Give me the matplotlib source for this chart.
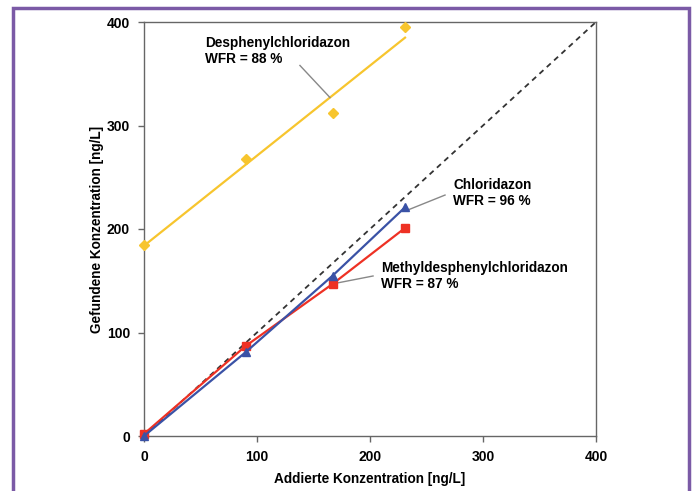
import matplotlib
matplotlib.use("Agg")
import matplotlib.pyplot as plt
import numpy as np
from matplotlib.patches import Rectangle

plt.rcParams['font.family'] = ['Liberation Sans', 'DejaVu Sans']

# Data
x_added = [0, 90, 167, 231]
y_desphenyl = [185, 268, 312, 395]
y_chloridazon = [0, 81, 155, 221]
y_methyl = [2, 87, 147, 201]
ticks = [0, 100, 200, 300, 400]

fig = plt.figure(figsize=(6.96, 4.91), dpi=100)
fig.patch.set_facecolor('white')

# purple frame
fig.add_artist(Rectangle((12.5/696, -0.05), (689-12.5)/696, (491-8.5)/491 + 0.05,
                         transform=fig.transFigure, fill=False,
                         edgecolor='#7B5AA6', linewidth=2.5, clip_on=False))

ax = fig.add_axes([144/696, 55/491, 452/696, 414/491])

# 1:1 line
ax.plot([0, 400], [0, 400], color='#333333', linestyle=(0, (3, 2.5)), linewidth=1.3, zorder=2)

# Desphenylchloridazon: regression line
xa = np.array(x_added, dtype=float)
coef = np.polyfit(xa, np.array(y_desphenyl, dtype=float), 1)
ax.plot([xa[0], xa[-1]], np.polyval(coef, [xa[0], xa[-1]]), color='#F7C52E', linewidth=1.6, zorder=3)
ax.plot(x_added, y_desphenyl, linestyle='none', marker='D', markersize=5,
        color='#F7C52E', zorder=4, clip_on=False)

# Methyldesphenylchloridazon
ax.plot(x_added, y_methyl, color='#EE3124', linewidth=1.6, marker='s', markersize=6,
        zorder=4, clip_on=False)
# Chloridazon
ax.plot(x_added, y_chloridazon, color='#3A52A6', linewidth=1.6, marker='^', markersize=6,
        zorder=5, clip_on=False)

ax.set_xlim(0, 400)
ax.set_ylim(0, 400)
ax.set_xticks(ticks)
ax.set_yticks(ticks)
ax.tick_params(direction='out', length=4, width=1, color='#666666',
               labelsize=10, pad=6)
for lab in ax.get_xticklabels() + ax.get_yticklabels():
    lab.set_fontweight('bold')
for s in ax.spines.values():
    s.set_color('#666666')
    s.set_linewidth(1.0)

ax.set_xlabel('Addierte Konzentration [ng/L]', fontsize=9.8, fontweight='bold', labelpad=6)
ax.set_ylabel('Gefundene Konzentration [ng/L]', fontsize=9.8, fontweight='bold', labelpad=2)

# annotations
lead = dict(color='#888888', lw=1, zorder=3)
fs = 9.8
ax.text(54, 386.5, 'Desphenylchloridazon\nWFR = 88 %', fontsize=fs, fontweight='bold',
        ha='left', va='top', linespacing=1.15)
ax.plot([138, 164.6], [358, 327], **lead)

ax.text(273.5, 249, 'Chloridazon\nWFR = 96 %', fontsize=fs, fontweight='bold',
        ha='left', va='top', linespacing=1.15)
ax.plot([266.4, 233.6], [232.8, 218.4], **lead)

ax.text(209.7, 169, 'Methyldesphenylchloridazon\nWFR = 87 %', fontsize=fs, fontweight='bold',
        ha='left', va='top', linespacing=1.15)
ax.plot([202.7, 170.8], [154.6, 147.8], **lead)

fig.savefig('out.png', dpi=100)
